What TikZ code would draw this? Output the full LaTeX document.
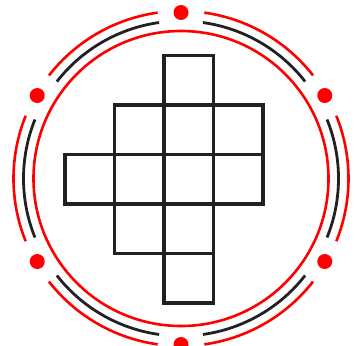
\documentclass[tikz,border=0pt]{standalone}
\begin{document}
\begin{tikzpicture}[x=1pt,y=-1pt,
  cell/.style={draw=black!87,line width=3.4pt},
  redring/.style={draw=red,line width=2.6pt},
  darkring/.style={draw=black!87,line width=2.8pt},
  dot/.style={fill=red}]
\useasboundingbox (0,0) rectangle (355,345);
\coordinate (C) at (181,178.5);
% grid of cells
\foreach \c/\r in {2/0, 1/1,2/1,3/1, 0/2,1/2,2/2,3/2, 1/3,2/3, 2/4}
  \draw[cell] ({65+49.5*\c},{55.5+49.5*\r}) rectangle ++(49.5,49.5);
% inner red circle
\draw[redring] (C) circle[radius=147.5];
% arcs (y axis flipped, so angles are measured clockwise)
\foreach \a in {0,60,120,180,240,300}{
  \draw[darkring] (C) ++({\a-22}:157.5) arc[start angle={\a-22}, end angle={\a+22}, radius=157.5];
  \draw[redring] (C) ++({\a-22}:167.5) arc[start angle={\a-22}, end angle={\a+22}, radius=167.5];
}
% dots
\foreach \a in {30,90,150,210,270,330}
  \fill[dot] (C) ++(\a:166) circle[radius=7.5];
\end{tikzpicture}
\end{document}
